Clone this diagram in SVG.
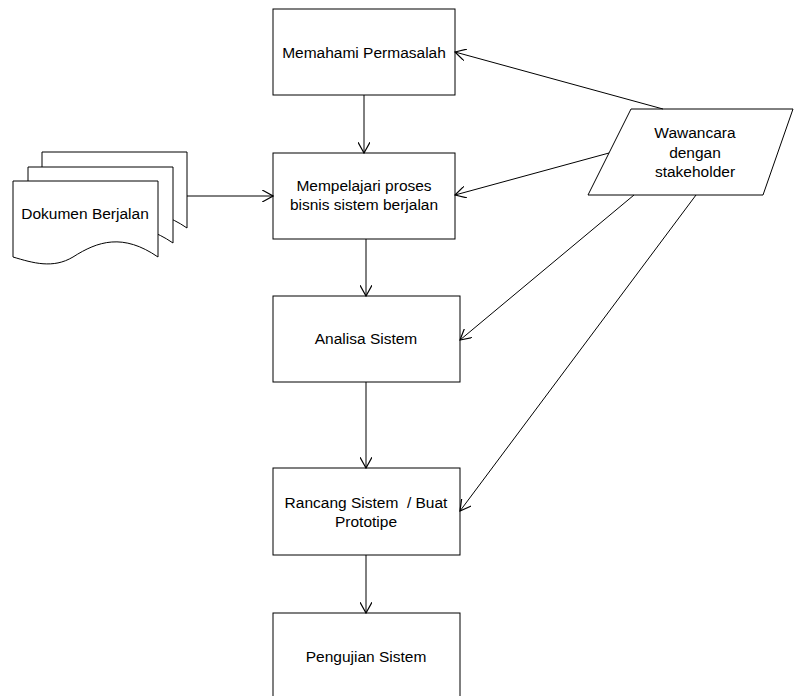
<svg xmlns="http://www.w3.org/2000/svg" width="807" height="696" viewBox="0 0 807 696">
<style>
.box{fill:#fff;stroke:#000;stroke-width:1}
.t{font-family:"Liberation Sans",Arial,sans-serif;font-size:15.5px;fill:#000;text-anchor:middle;white-space:pre}
.c{fill:none;stroke:#000;stroke-width:1;marker-end:url(#ah)}
</style>
<defs>
<marker id="ah" markerWidth="12" markerHeight="12" refX="9" refY="5" orient="auto" markerUnits="userSpaceOnUse" viewBox="0 0 10 10">
<path d="M0,0 L9,5 L0,10" fill="none" stroke="#000" stroke-width="1"/>
</marker>
<path id="doc" d="M0,0 H145 V76 C110,52 85,60 60,76 C40,88 20,82 0,76 Z"/>
</defs>
<rect width="807" height="696" fill="#fff"/>
<g id="dokumen">
<use href="#doc" x="42" y="152" class="box"/>
<use href="#doc" x="28" y="167" class="box"/>
<use href="#doc" x="13" y="181" class="box"/>
<text class="t" x="85" y="219">Dokumen Berjalan</text>
</g>
<g id="memahami">
<rect class="box" x="273" y="9" width="182" height="86"/>
<text class="t" x="364" y="58">Memahami Permasalah</text>
</g>
<g id="mempelajari">
<rect class="box" x="273" y="153" width="182" height="86"/>
<text class="t" x="364" y="191">Mempelajari proses</text>
<text class="t" x="364" y="210">bisnis sistem berjalan</text>
</g>
<g id="analisa">
<rect class="box" x="273" y="296" width="187" height="86"/>
<text class="t" x="366" y="344">Analisa Sistem</text>
</g>
<g id="rancang">
<rect class="box" x="273" y="468" width="187" height="87"/>
<text class="t" x="366" y="508">Rancang Sistem  / Buat</text>
<text class="t" x="366" y="527">Prototipe</text>
</g>
<g id="pengujian">
<rect class="box" x="273" y="613" width="187" height="90"/>
<text class="t" x="366" y="662">Pengujian Sistem</text>
</g>
<g id="wawancara">
<polygon class="box" points="631,109 793,109 763,195 588,195"/>
<text class="t" x="695" y="138">Wawancara</text>
<text class="t" x="695" y="158">dengan</text>
<text class="t" x="695" y="177">stakeholder</text>
</g>
<g id="connectors">
<line class="c" x1="364" y1="95" x2="364" y2="153"/>
<line class="c" x1="366" y1="239" x2="366" y2="296"/>
<line class="c" x1="366" y1="382" x2="366" y2="468"/>
<line class="c" x1="366" y1="555" x2="366" y2="613"/>
<line class="c" x1="187" y1="196" x2="273" y2="196"/>
<line class="c" x1="663" y1="109" x2="455" y2="52"/>
<line class="c" x1="609" y1="153" x2="455" y2="195"/>
<line class="c" x1="634" y1="195" x2="460" y2="340"/>
<line class="c" x1="696" y1="195" x2="460" y2="511"/>
</g>
</svg>
